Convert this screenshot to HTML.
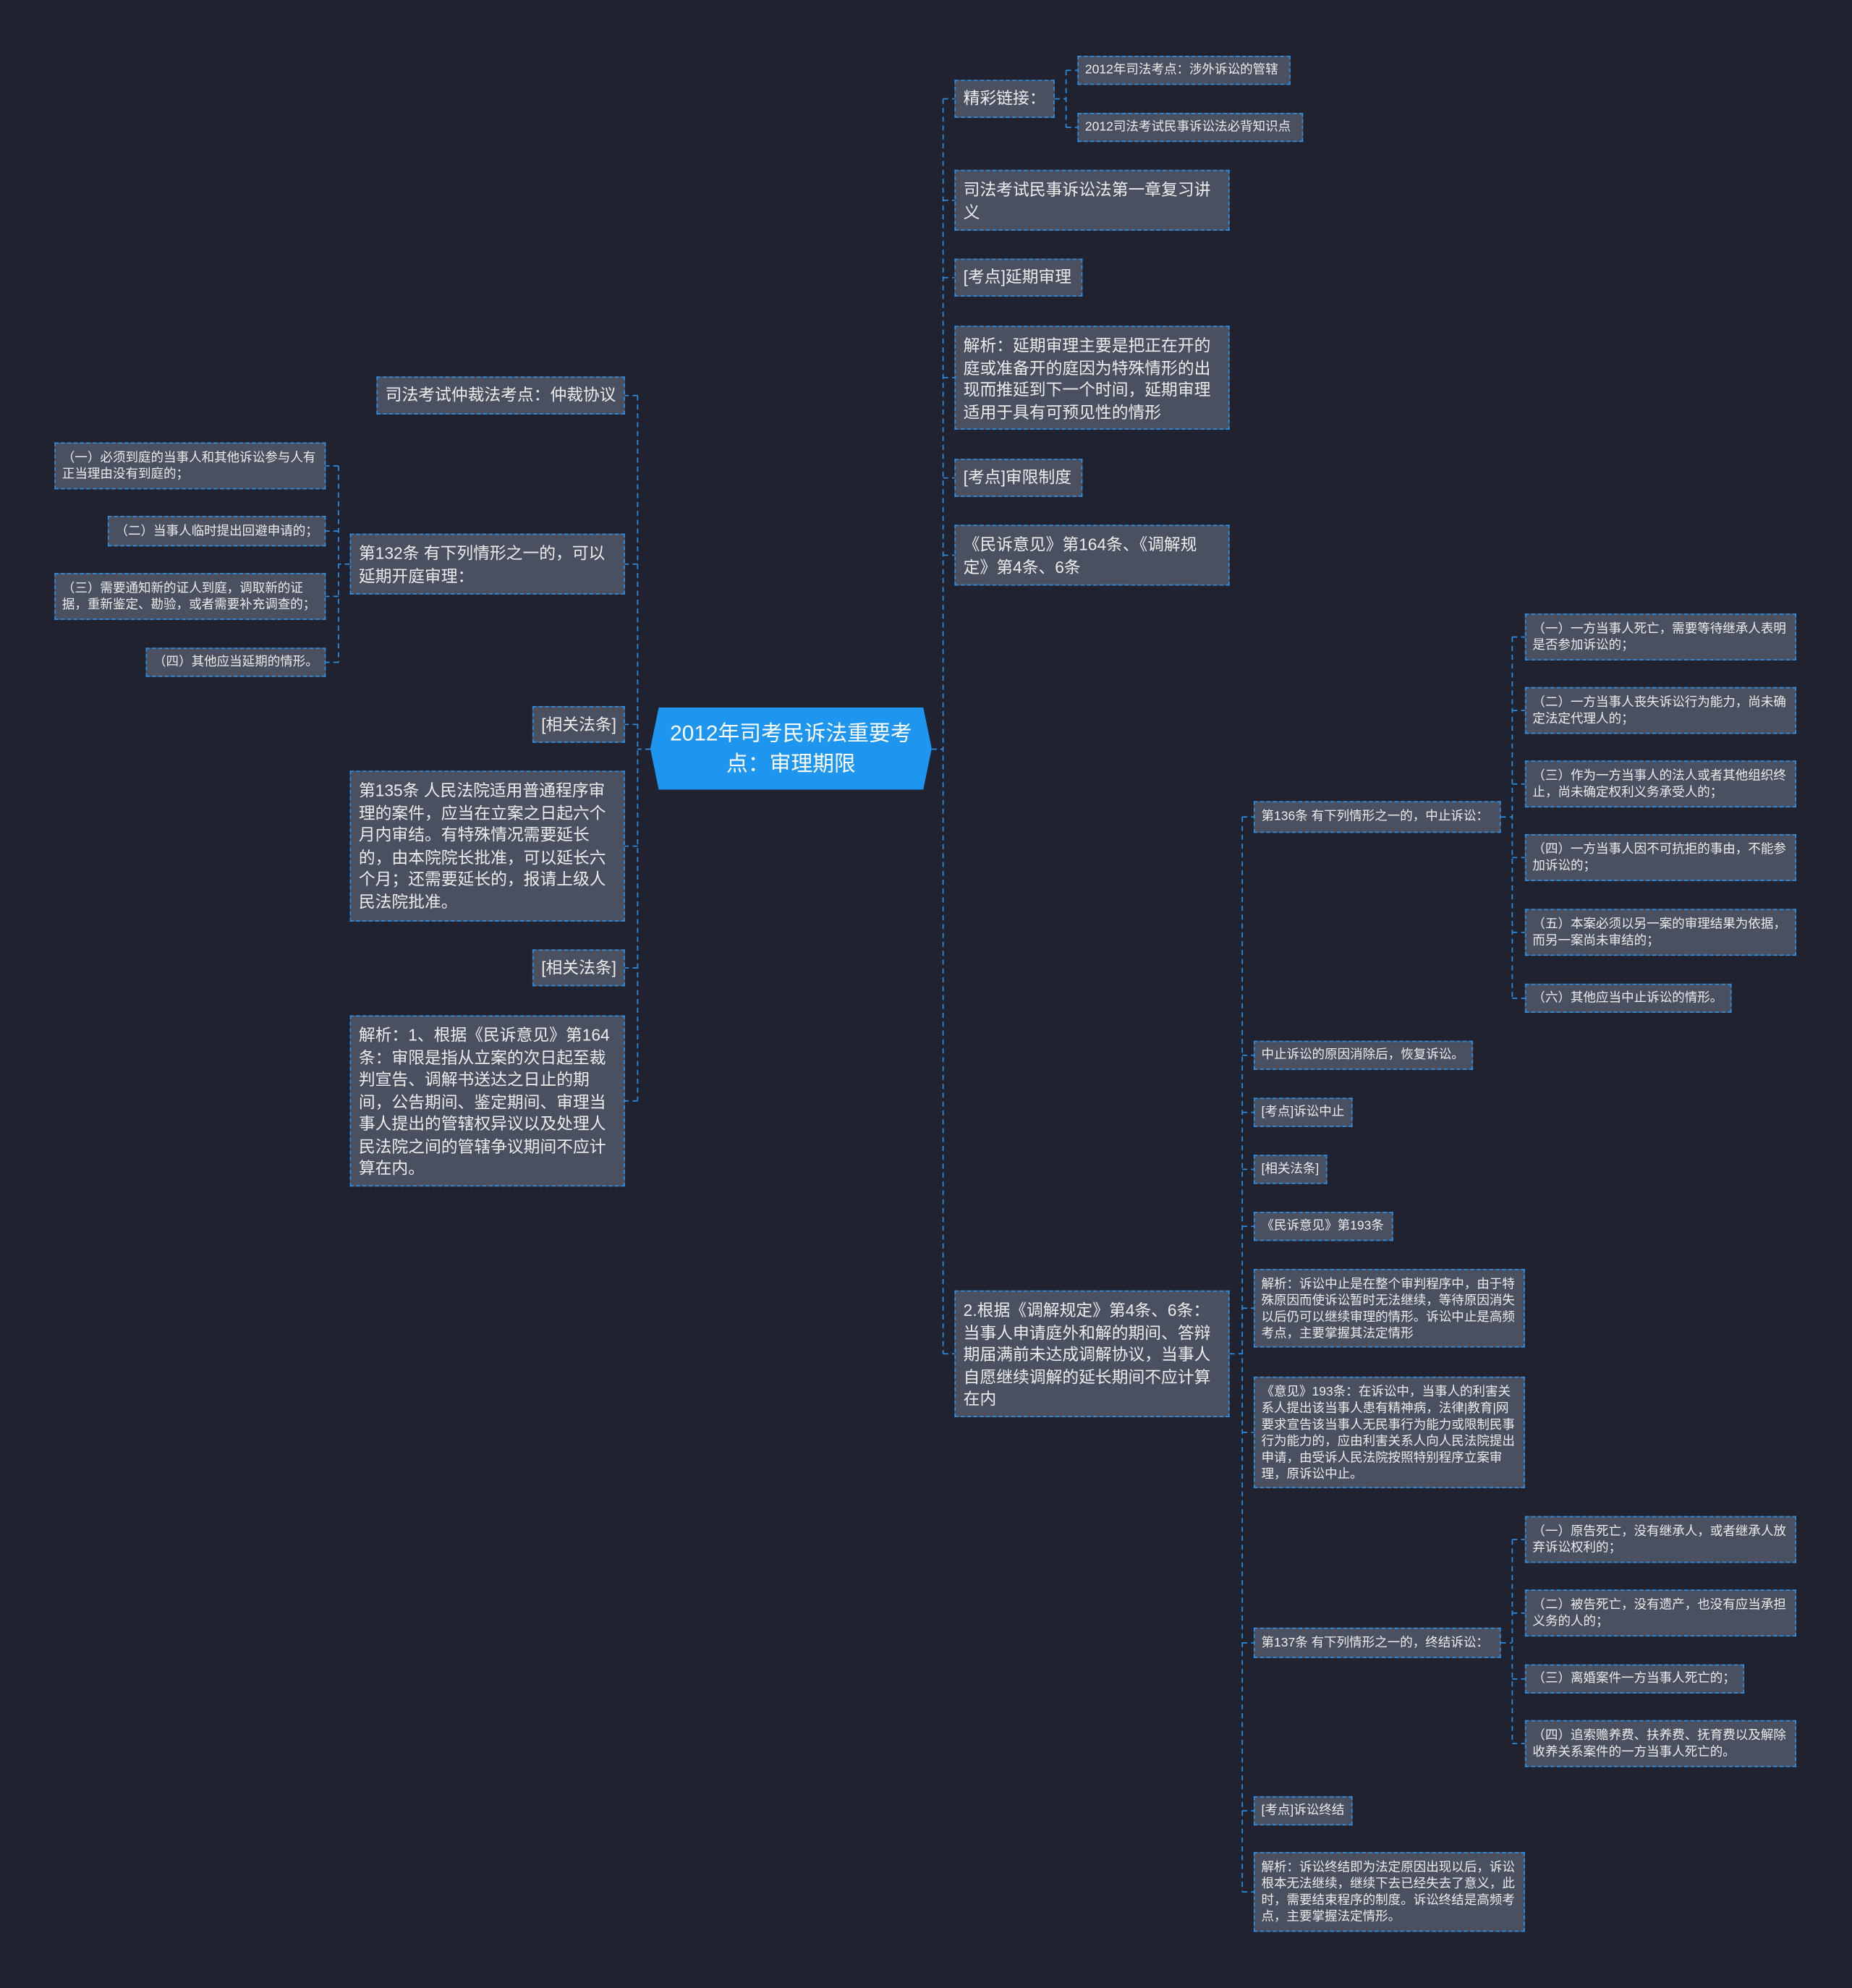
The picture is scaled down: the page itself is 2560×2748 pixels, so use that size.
<!DOCTYPE html>
<html><head><meta charset="utf-8"><style>
html,body{margin:0;padding:0;background:#20232f;}
body{width:2560px;height:2748px;overflow:hidden;position:relative;}
#w{position:absolute;left:0;top:0;width:1461px;height:1568px;transform:scale(1.75222);transform-origin:0 0;font-family:"Liberation Sans","Noto Sans CJK SC",sans-serif;}
.n{position:absolute;box-sizing:border-box;background:#4a5060;border:1px dashed #2d8ee6;color:#ececec;font-size:13px;line-height:17.5px;padding:6px 6px;overflow:hidden;}
.n.c{display:flex;align-items:center;padding:0 6px;white-space:nowrap;overflow:visible;}
.s{font-size:10px;line-height:13px;padding:5px 5px;}
.n.s.c{padding:0 5px;}
svg{position:absolute;left:0;top:0;}
#ct{position:absolute;left:513px;top:558px;width:222px;height:65px;background:#1e96ef;clip-path:polygon(3% 0,97% 0,100% 50%,97% 100%,3% 100%,0 50%);color:#fff;font-size:17px;line-height:24px;text-align:center;display:flex;align-items:center;justify-content:center;}
</style></head><body><div id="w">
<svg width="1461" height="1568" fill="none" stroke="#2a8be0" stroke-width="1" stroke-dasharray="4 3">
<path d="M735 591H744M744 78V1068"/>
<path d="M744 78H753M744 158H753M744 219H753M744 298H753M744 377H753M744 438H753M744 1068H753"/>
<path d="M832 78H841M841 55.5V100.5M841 55.5H850M841 100.5H850"/>
<path d="M970 1068H980M980 644.5V1492.5"/>
<path d="M980 644.5H989M980 832.5H989M980 877.5H989M980 922.5H989M980 967.5H989M980 1032H989M980 1130H989M980 1296H989M980 1428.5H989M980 1492.5H989"/>
<path d="M1184 644.5H1193M1193 502.5V787.5M1193 502.5H1203M1193 560.5H1203M1193 618.5H1203M1193 676.5H1203M1193 735.5H1203M1193 787.5H1203"/>
<path d="M1184 1296H1193M1193 1214.5V1375.5M1193 1214.5H1203M1193 1272.5H1203M1193 1324.5H1203M1193 1375.5H1203"/>
<path d="M513 591H503M503 312V868.5M503 312H493M503 445H493M503 571.5H493M503 667.5H493M503 763.5H493M503 868.5H493"/>
<path d="M276 445H267M267 367.5V522.5M267 367.5H257M267 419H257M267 470.5H257M267 522.5H257"/>
</svg>
<div id="ct">2012年司考民诉法重要考<br>点：审理期限</div>

<div class="n c" style="left:753px;top:63px;width:79px;height:30px">精彩链接：</div>
<div class="n s c" style="left:850px;top:44px;width:168px;height:23px">2012年司法考点：涉外诉讼的管辖</div>
<div class="n s c" style="left:850px;top:89px;width:178px;height:23px">2012司法考试民事诉讼法必背知识点</div>
<div class="n" style="left:753px;top:134px;width:217px;height:48px">司法考试民事诉讼法第一章复习讲义</div>
<div class="n c" style="left:753px;top:204px;width:101px;height:30px">[考点]延期审理</div>
<div class="n" style="left:753px;top:257px;width:217px;height:82px">解析：延期审理主要是把正在开的庭或准备开的庭因为特殊情形的出现而推延到下一个时间，延期审理适用于具有可预见性的情形</div>
<div class="n c" style="left:753px;top:362px;width:101px;height:30px">[考点]审限制度</div>
<div class="n" style="left:753px;top:414px;width:217px;height:48px">《民诉意见》第164条、《调解规定》第4条、6条</div>
<div class="n" style="left:753px;top:1018px;width:217px;height:100px">2.根据《调解规定》第4条、6条：当事人申请庭外和解的期间、答辩期届满前未达成调解协议，当事人自愿继续调解的延长期间不应计算在内</div>

<div class="n s c" style="left:989px;top:632px;width:195px;height:25px">第136条 有下列情形之一的，中止诉讼：</div>
<div class="n s" style="left:1203px;top:484px;width:214px;height:37px">（一）一方当事人死亡，需要等待继承人表明是否参加诉讼的；</div>
<div class="n s" style="left:1203px;top:542px;width:214px;height:37px">（二）一方当事人丧失诉讼行为能力，尚未确定法定代理人的；</div>
<div class="n s" style="left:1203px;top:600px;width:214px;height:37px">（三）作为一方当事人的法人或者其他组织终止，尚未确定权利义务承受人的；</div>
<div class="n s" style="left:1203px;top:658px;width:214px;height:37px">（四）一方当事人因不可抗拒的事由，不能参加诉讼的；</div>
<div class="n s" style="left:1203px;top:717px;width:214px;height:37px">（五）本案必须以另一案的审理结果为依据，而另一案尚未审结的；</div>
<div class="n s c" style="left:1203px;top:776px;width:163px;height:23px">（六）其他应当中止诉讼的情形。</div>
<div class="n s c" style="left:989px;top:821px;width:173px;height:23px">中止诉讼的原因消除后，恢复诉讼。</div>
<div class="n s c" style="left:989px;top:866px;width:78px;height:23px">[考点]诉讼中止</div>
<div class="n s c" style="left:989px;top:911px;width:58px;height:23px">[相关法条]</div>
<div class="n s c" style="left:989px;top:956px;width:110px;height:23px">《民诉意见》第193条</div>
<div class="n s" style="left:989px;top:1001px;width:214px;height:62px">解析：诉讼中止是在整个审判程序中，由于特殊原因而使诉讼暂时无法继续，等待原因消失以后仍可以继续审理的情形。诉讼中止是高频考点，主要掌握其法定情形</div>
<div class="n s" style="left:989px;top:1086px;width:214px;height:88px">《意见》193条：在诉讼中，当事人的利害关系人提出该当事人患有精神病，法律|教育|网要求宣告该当事人无民事行为能力或限制民事行为能力的，应由利害关系人向人民法院提出申请，由受诉人民法院按照特别程序立案审理，原诉讼中止。</div>
<div class="n s c" style="left:989px;top:1284px;width:195px;height:24px">第137条 有下列情形之一的，终结诉讼：</div>
<div class="n s" style="left:1203px;top:1196px;width:214px;height:37px">（一）原告死亡，没有继承人，或者继承人放弃诉讼权利的；</div>
<div class="n s" style="left:1203px;top:1254px;width:214px;height:37px">（二）被告死亡，没有遗产，也没有应当承担义务的人的；</div>
<div class="n s c" style="left:1203px;top:1313px;width:173px;height:23px">（三）离婚案件一方当事人死亡的；</div>
<div class="n s" style="left:1203px;top:1357px;width:214px;height:37px">（四）追索赡养费、扶养费、抚育费以及解除收养关系案件的一方当事人死亡的。</div>
<div class="n s c" style="left:989px;top:1417px;width:78px;height:23px">[考点]诉讼终结</div>
<div class="n s" style="left:989px;top:1461px;width:214px;height:63px">解析：诉讼终结即为法定原因出现以后，诉讼根本无法继续，继续下去已经失去了意义，此时，需要结束程序的制度。诉讼终结是高频考点，主要掌握法定情形。</div>

<div class="n c" style="left:297px;top:297px;width:196px;height:30px">司法考试仲裁法考点：仲裁协议</div>
<div class="n" style="left:276px;top:421px;width:217px;height:48px">第132条 有下列情形之一的，可以延期开庭审理：</div>
<div class="n s" style="left:43px;top:349px;width:214px;height:37px">（一）必须到庭的当事人和其他诉讼参与人有正当理由没有到庭的；</div>
<div class="n s c" style="left:85px;top:407px;width:172px;height:24px">（二）当事人临时提出回避申请的；</div>
<div class="n s" style="left:43px;top:452px;width:214px;height:37px">（三）需要通知新的证人到庭，调取新的证据，重新鉴定、勘验，或者需要补充调查的；</div>
<div class="n s c" style="left:115px;top:511px;width:142px;height:23px">（四）其他应当延期的情形。</div>
<div class="n c" style="left:420px;top:557px;width:73px;height:29px">[相关法条]</div>
<div class="n" style="left:276px;top:608px;width:217px;height:119px">第135条 人民法院适用普通程序审理的案件，应当在立案之日起六个月内审结。有特殊情况需要延长的，由本院院长批准，可以延长六个月；还需要延长的，报请上级人民法院批准。</div>
<div class="n c" style="left:420px;top:749px;width:73px;height:29px">[相关法条]</div>
<div class="n" style="left:276px;top:801px;width:217px;height:135px">解析：1、根据《民诉意见》第164条：审限是指从立案的次日起至裁判宣告、调解书送达之日止的期间，公告期间、鉴定期间、审理当事人提出的管辖权异议以及处理人民法院之间的管辖争议期间不应计算在内。</div>
</div></body></html>
